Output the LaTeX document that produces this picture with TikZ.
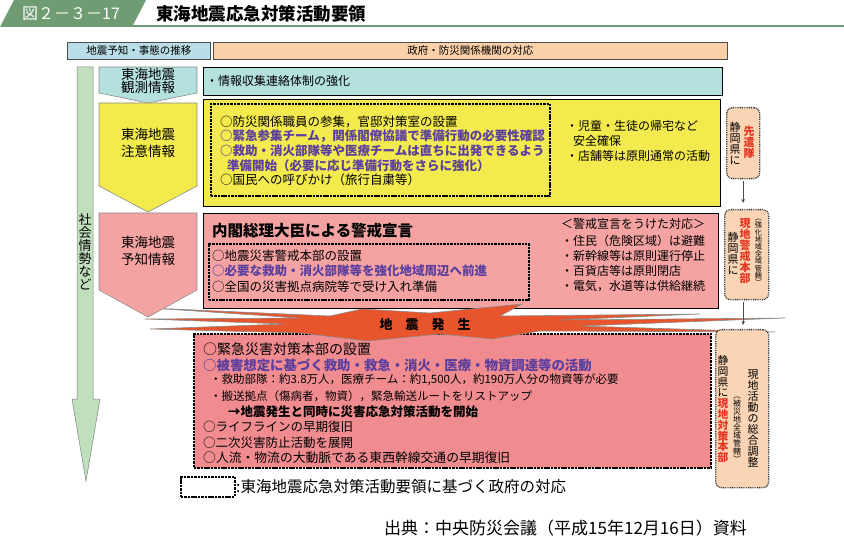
\documentclass[tikz,border=0pt]{standalone}
\usepackage{fontspec}
\setmainfont{Noto Sans CJK JP}
\usetikzlibrary{arrows.meta}
\definecolor{tgreen}{HTML}{6F9C72}
\definecolor{hblue}{HTML}{B9DEE8}
\definecolor{cbar}{HTML}{B4E0DE}
\definecolor{horange}{HTML}{FAD0A8}
\definecolor{yel}{HTML}{F3EA4E}
\definecolor{pk}{HTML}{F4A3A2}
\definecolor{rd}{HTML}{F08C90}
\definecolor{peach}{HTML}{F9D5B5}
\definecolor{garrow}{HTML}{C0DFBC}
\definecolor{purp}{HTML}{5B3F9E}
\definecolor{redt}{HTML}{E53520}
\definecolor{boom}{HTML}{E8552C}
\lineskiplimit=-20pt\relax
\lineskip=0pt\relax
\begin{document}
\begin{tikzpicture}[x=1pt,y=-1pt,
  fs/.style={font=\fontsize{#1}{#1}\selectfont},
  vfs/.style={font=\fontsize{#1}{#1}\selectfont},
  t/.style={inner sep=0pt, anchor=west},
  solidbox/.style={draw=black, line width=1pt, inner sep=0pt, anchor=north west},
  dbox/.style={draw=black, line width=1.6pt, dash pattern=on 2.5pt off 0.9pt, inner sep=0pt, anchor=north west},
  rbx/.style={draw=black!80, fill=peach, line width=1.3pt, dash pattern=on 0.9pt off 0.9pt, rounded corners=6pt, inner sep=0pt, anchor=north west},
  vt/.style={inner sep=0pt, align=center},
  chev/.style={draw=black!45, line width=0.6pt},
  pb/.style={purp, font=\fontsize{#1}{#1}\selectfont\bfseries},
  arr/.style={-{Stealth[length=4pt,width=3.5pt]}, draw=black!70, line width=0.6pt}
]
\useasboundingbox (0,0) rectangle (844,540);
% title
\fill[tgreen] (0,27) -- (14,0) -- (146,0) -- (132,27) -- cycle;
\draw[tgreen, line width=1.5pt] (132,26.2) -- (844,26.2);
\node[t, fs=16, white] (fignum) at (22,14) {図２－３－17};
\node[t, font=\fontsize{17.5}{17.5}\selectfont\bfseries] (title) at (156,14) {東海地震応急対策活動要領};
% headers
\node[solidbox, draw=black!70, line width=0.8pt, fill=hblue, minimum width=143pt, minimum height=17pt, fs=10.5] (h1) at (67,42) {地震予知・事態の推移};
\node[solidbox, draw=black!70, line width=0.8pt, fill=horange, minimum width=514pt, minimum height=17pt, fs=10.5] (h2) at (213,42) {政府・防災関係機関の対応};
% society arrow
\filldraw[fill=garrow, draw=black!50, line width=0.5pt] (77,67) -- (93,67) -- (93,399) -- (100,399) -- (86,481) -- (72,399) -- (77,399) -- cycle;
\node[vt, vfs=13] (shakai) at (85,252) {社\\会\\情\\勢\\な\\ど};
% blue bar
\node[solidbox, fill=cbar, minimum width=519pt, minimum height=28pt] (bar) at (203,67) {};
\node[t, fs=12] (bartxt) at (206,81) {・情報収集連絡体制の強化};
% yellow box
\node[solidbox, fill=yel, minimum width=517pt, minimum height=107pt] (ybox) at (203,99) {};
\node[dbox, minimum width=339pt, minimum height=92pt] (yin) at (210,103) {};
\node[t, fs=12.5] (y1) at (220,122) {○防災関係職員の参集，官邸対策室の設置};
\node[t, pb=12.5] (y2) at (220,136) {○緊急参集チーム，関係閣僚協議で準備行動の必要性確認};
\node[t, pb=12.5] (y3) at (220,151) {○救助・消火部隊等や医療チームは直ちに出発できるよう};
\node[t, pb=12.5] (y4) at (227,166) {準備開始（必要に応じ準備行動をさらに強化）};
\node[t, fs=12.5] (y5) at (220,180) {○国民への呼びかけ（旅行自粛等）};
\node[t, fs=12] (yr1) at (566,126) {・児童・生徒の帰宅など};
\node[t, fs=12] (yr2) at (573,141) {安全確保};
\node[t, fs=12] (yr3) at (566,156) {・店舗等は原則通常の活動};
% pink box
\node[solidbox, fill=pk, minimum width=515pt, minimum height=95pt] (pbox) at (203,213) {};
\node[t, font=\fontsize{15.5}{15.5}\selectfont\bfseries] (ptitle) at (212,231) {内閣総理大臣による警戒宣言};
\node[dbox, minimum width=320pt, minimum height=56pt] (pin) at (208,243) {};
\node[t, fs=12.5] (p1) at (212,256) {○地震災害警戒本部の設置};
\node[t, pb=12.5] (p2) at (212,271) {○必要な救助・消火部隊等を強化地域周辺へ前進};
\node[t, fs=12.5] (p3) at (212,287) {○全国の災害拠点病院等で受け入れ準備};
\node[t, fs=12] (pr0) at (561,224) {＜警戒宣言をうけた対応＞};
\node[t, fs=12] (pr1) at (561,241) {・住民（危険区域）は避難};
\node[t, fs=12] (pr2) at (561,256) {・新幹線等は原則運行停止};
\node[t, fs=12] (pr3) at (561,271) {・百貨店等は原則閉店};
\node[t, fs=12] (pr4) at (561,286) {・電気，水道等は供給継続};
% bottom red box
\node[dbox, fill=rd, minimum width=517pt, minimum height=134pt] (rbox) at (193,333) {};
\node[t, fs=14] (r1) at (203,349) {○緊急災害対策本部の設置};
\node[t, pb=13.4] (r2) at (203,365) {○被害想定に基づく救助・救急・消火・医療・物資調達等の活動};
\node[t, fs=11.5] (r3) at (210,380) {・救助部隊：約3.8万人，医療チーム：約1,500人，約190万人分の物資等が必要};
\node[t, fs=11.5] (r4) at (210,396) {・搬送拠点（傷病者，物資），緊急輸送ルートをリストアップ};
\node[t, font=\fontsize{12.5}{12.5}\selectfont\bfseries] (r5) at (228,412) {→地震発生と同時に災害応急対策活動を開始};
\node[t, fs=12.5] (r6) at (203,427) {○ライフラインの早期復旧};
\node[t, fs=12.5] (r7) at (203,443) {○二次災害防止活動を展開};
\node[t, fs=12.8] (r8) at (203,458) {○人流・物流の大動脈である東西幹線交通の早期復旧};
% explosion
\filldraw[fill=boom, draw=black!45, line width=0.6pt]
  (150,308) -- (330,316) -- (362,309) -- (430,313) -- (522,304) -- (500,316)
  -- (700,314) -- (560,320) -- (785,318) -- (580,326) -- (775,332) -- (540,331)
  -- (492,339) -- (440,334) -- (368,341) -- (300,333) -- (150,329) -- (285,324)
  -- (145,319) -- (300,318) -- cycle;
\node[font=\fontsize{13}{13}\selectfont\bfseries] (quake) at (425,325) {地　震　発　生};
% chevrons
\filldraw[fill=cbar, chev] (99,67) -- (197,67) -- (197,93) -- (148,103) -- (99,93) -- cycle;
\filldraw[fill=yel, chev] (99,103) -- (197,103) -- (197,186) -- (148,212) -- (99,186) -- cycle;
\filldraw[fill=pk, chev] (99,213) -- (197,213) -- (197,290) -- (148,317) -- (99,290) -- cycle;
\node[vt, vfs=13.5] (c1) at (148,81) {東海地震\\観測情報};
\node[vt, font=\fontsize{13.5}{17}\selectfont] (c2) at (148,143) {東海地震\\注意情報};
\node[vt, font=\fontsize{13.5}{17}\selectfont] (c3) at (148,251) {東海地震\\予知情報};
% right boxes
\node[rbx, minimum width=33pt, minimum height=71pt] (rb1) at (726,107) {};
\node[vt, vfs=11] (rb1a) at (735,143.5) {静\\岡\\県\\に};
\node[vt, redt, font=\fontsize{11}{11}\selectfont\bfseries] (rb1b) at (749,142) {先\\遣\\隊};
\node[rbx, minimum width=44pt, minimum height=90pt] (rb2) at (724,209) {};
\node[vt, vfs=11] (rb2a) at (733,253.5) {静\\岡\\県\\に};
\node[vt, redt, font=\fontsize{11}{11}\selectfont\bfseries] (rb2b) at (745,251.5) {現\\地\\警\\戒\\本\\部};
\node[vt, vfs=7.2] (rb2c) at (758.5,252.5) {︵\\強\\化\\地\\域\\全\\域\\管\\轄\\︶};
\node[rbx, minimum width=53pt, minimum height=158pt] (rb3) at (715,329) {};
\node[vt, vfs=11] (rb3a) at (753,418) {現\\地\\活\\動\\の\\総\\合\\調\\整};
\node[vt, vfs=8] (rb3b) at (737,429.5) {︵\\被\\災\\地\\全\\域\\管\\轄\\︶};
\node[vt, vfs=10.8] (rb3c) at (723,409) {静\\岡\\県\\に\\\textcolor{redt}{\bfseries 現}\\\textcolor{redt}{\bfseries 地}\\\textcolor{redt}{\bfseries 対}\\\textcolor{redt}{\bfseries 策}\\\textcolor{redt}{\bfseries 本}\\\textcolor{redt}{\bfseries 部}};
\draw[arr, shorten <=2pt, shorten >=6pt] (rb1.south) -- (rb1.south |- rb2.north);
\draw[arr, shorten <=2pt, shorten >=4pt] (rb1.south |- rb2.south) -- (rb1.south |- rb3.north);
% legend and source
\node[dbox, minimum width=54pt, minimum height=20pt] (leg) at (180,476) {};
\node[t, fs=15.5] (legtxt) at (236,487) {:東海地震応急対策活動要領に基づく政府の対応};
\node[t, fs=17] (src) at (384,528) {出典：中央防災会議（平成15年12月16日）資料};
\end{tikzpicture}
\end{document}
